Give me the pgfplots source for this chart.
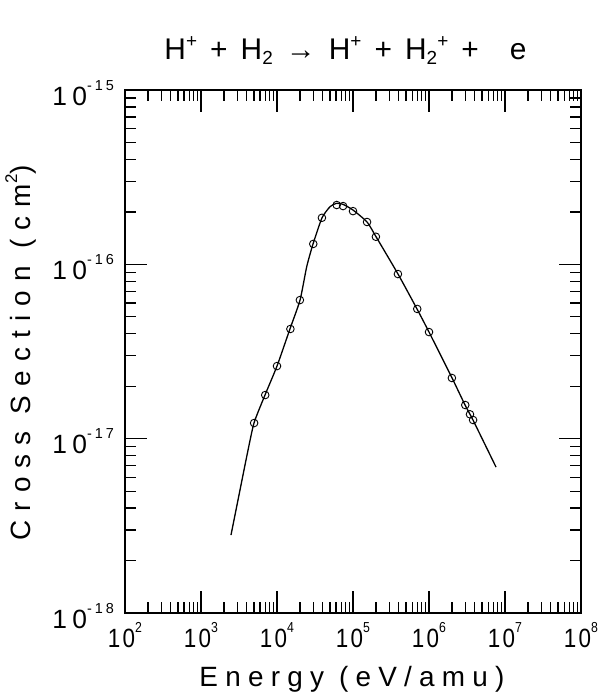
\documentclass[border=0pt]{standalone}
\usepackage{fontspec}
\setmainfont{Liberation Sans}
\usepackage{graphicx}
\usepackage{pgfplots}
\usepackage{pgfplotstable}
\pgfplotsset{compat=1.18}
\newfontfamily\xlabfont[LetterSpace=26]{Liberation Sans}
\newfontfamily\ylabfont[LetterSpace=33]{Liberation Sans}
\newfontfamily\tickfont[LetterSpace=10]{Liberation Sans}
\newfontfamily\ytickfont[LetterSpace=20]{Liberation Sans}
\newfontfamily\titlefont[LetterSpace=16]{Liberation Sans}
\newcommand\tl[1]{\scalebox{0.85}[1]{\fontsize{26.5}{26.5}\tickfont 10\raisebox{15bp}{\fontsize{14.5}{14.5}\tickfont #1}}}
\newcommand\ytl[1]{{\fontsize{26.5}{26.5}\ytickfont 10\raisebox{15bp}{\fontsize{14.5}{14.5}\ytickfont #1}}}

\pgfplotstableread{
E sigma
2.48e3 2.80e-18
3.26e3 5.08e-18
4.03e3 8.05e-18
4.98e3 1.23e-17
6.95e3 1.78e-17
1.0e4 2.61e-17
1.48e4 4.26e-17
2.01e4 6.24e-17
2.46e4 9.70e-17
2.98e4 1.31e-16
3.91e4 1.85e-16
4.98e4 2.14e-16
6.10e4 2.24e-16
7.38e4 2.21e-16
1.0e5 2.05e-16
1.53e5 1.75e-16
2.01e5 1.44e-16
3.91e5 8.8e-17
6.95e5 5.55e-17
1.0e6 4.09e-17
2.01e6 2.23e-17
2.98e6 1.56e-17
3.79e6 1.28e-17
7.62e6 6.87e-18
}\curve

\pgfplotstableread{
E sigma
5.0e3 1.23e-17
7.0e3 1.78e-17
1.0e4 2.61e-17
1.5e4 4.26e-17
2.0e4 6.24e-17
3.0e4 1.31e-16
3.9e4 1.85e-16
6.1e4 2.19e-16
7.4e4 2.16e-16
1.0e5 2.02e-16
1.53e5 1.75e-16
2.0e5 1.44e-16
3.9e5 8.8e-17
7.0e5 5.55e-17
1.0e6 4.09e-17
2.0e6 2.23e-17
3.0e6 1.56e-17
3.46e6 1.38e-17
3.8e6 1.28e-17
}\pts

\begin{document}
\begin{tikzpicture}[x=1bp,y=1bp]
\path[use as bounding box] (0,0) rectangle (598,696);
\begin{axis}[
  at={(125bp,83bp)}, anchor=south west,
  scale only axis, width=456bp, height=523bp,
  xmode=log, ymode=log,
  xmin=1e2, xmax=1e8, ymin=1e-18, ymax=1e-15,
  axis line style={line width=2.3bp},
  every tick/.style={line width=1.3bp, black},
  major tick length=22bp, minor tick length=11bp,
  tick align=inside,
  xtick={1e2,1e3,1e4,1e5,1e6,1e7,1e8},
  xticklabels={\tl{2},\tl{3},\tl{4},\tl{5},\tl{6},\tl{7},\tl{8}},
  minor xtick={200,300,400,500,600,700,800,900,
    2000,3000,4000,5000,6000,7000,8000,9000,
    20000,30000,40000,50000,60000,70000,80000,90000,
    2e5,3e5,4e5,5e5,6e5,7e5,8e5,9e5,
    2e6,3e6,4e6,5e6,6e6,7e6,8e6,9e6,
    2e7,3e7,4e7,5e7,6e7,7e7,8e7,9e7},
  ytick={1e-18,1e-17,1e-16,1e-15},
  yticklabels={\ytl{-18},\ytl{-17},\ytl{-16},\ytl{-15}},
  minor ytick={2e-18,3e-18,4e-18,5e-18,6e-18,7e-18,8e-18,9e-18,
    2e-17,3e-17,4e-17,5e-17,6e-17,7e-17,8e-17,9e-17,
    2e-16,3e-16,4e-16,5e-16,6e-16,7e-16,8e-16,9e-16},
  xticklabel style={anchor=base, inner sep=0pt, yshift=-34bp},
  yticklabel style={anchor=base east, inner sep=0pt, xshift=-11bp, yshift=-15bp},
  clip=false,
]
\addplot[black, line width=1.3bp, smooth, tension=0.35] table[x=E, y=sigma] {\curve};
\addplot[only marks, mark=o, mark size=3.8bp, mark options={line width=0.9bp, black}] table[x=E, y=sigma] {\pts};
\end{axis}
\node[anchor=base] at (345.5,636) {\fontsize{30}{30}\titlefont H\raisebox{12bp}{\fontsize{19}{19}\titlefont +} + H\raisebox{-5bp}{\fontsize{19}{19}\titlefont 2} → H\raisebox{12bp}{\fontsize{19}{19}\titlefont +} + H\raisebox{-5bp}{\fontsize{19}{19}\titlefont 2}\raisebox{12bp}{\fontsize{19}{19}\titlefont +} +\hspace{18bp} e};
\node[anchor=base] at (352,9) {\fontsize{28}{28}\xlabfont Energy (eV/amu)};
\node[anchor=base, rotate=90] at (30,343) {\fontsize{28}{28}\ylabfont Cross Section (cm\raisebox{13bp}{\fontsize{17}{17}\ylabfont 2})};
\end{tikzpicture}
\end{document}
